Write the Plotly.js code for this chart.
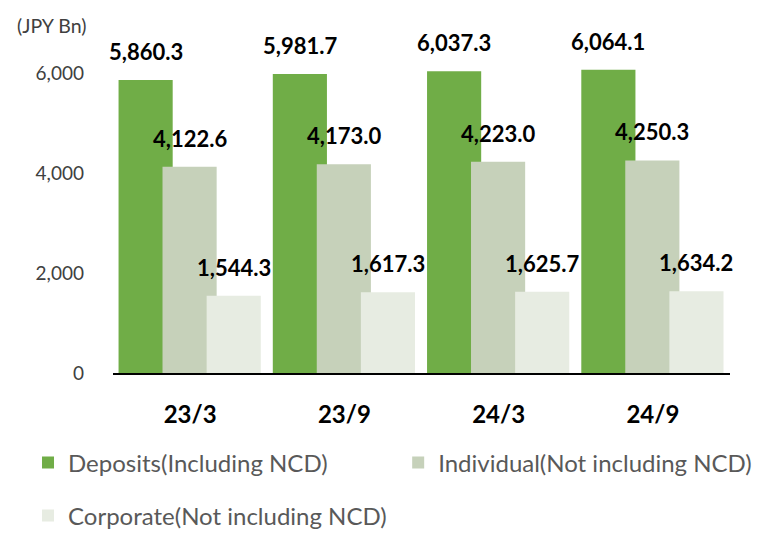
<!DOCTYPE html>
<html>
<head>
<meta charset="utf-8">
<script src="https://cdn.plot.ly/plotly-3.0.1.min.js"></script>
<style>html,body{margin:0;padding:0;background:#fff;}#chart{width:757px;height:534px;}</style>
</head>
<body>
<div id="chart"></div>
<script>
const categories = ["23/3", "23/9", "24/3", "24/9"];
const deposits = [5860.3, 5981.7, 6037.3, 6064.1];
const individual = [4122.6, 4173.0, 4223.0, 4250.3];
const corporate = [1544.3, 1617.3, 1625.7, 1634.2];
const seriesNames = ["Deposits(Including NCD)", "Individual(Not including NCD)", "Corporate(Not including NCD)"];
const yTicks = [0, 2000, 4000, 6000];

const colors = ["#70AD47", "#C6D1BA", "#E7ECE2"];
const offsets = [-0.464, -0.179, 0.107];
const barW = 0.351;
const series = [deposits, individual, corporate];
const legendIds = ["legend", "legend2", "legend3"];

const traces = series.map((vals, k) => ({
  type: "bar",
  name: seriesNames[k],
  x: categories,
  y: vals,
  width: barW,
  offset: offsets[k],
  marker: {color: colors[k], line: {width: 0}},
  legend: legendIds[k],
  hoverinfo: "skip"
}));

const fmt = v => v.toLocaleString("en-US", {minimumFractionDigits: 1, maximumFractionDigits: 1});
const annotations = [];
series.forEach((vals, k) => {
  vals.forEach((v, i) => {
    annotations.push({
      x: i + offsets[k] + barW / 2, y: v, xref: "x", yref: "y",
      text: fmt(v), showarrow: false, yanchor: "bottom", yshift: 13,
      font: {family: "Lato, sans-serif", size: 22, color: "#000", weight: "bold"}
    });
  });
});
annotations.push({
  xref: "paper", yref: "paper", x: -0.1, y: 1.0, xanchor: "center", yanchor: "middle", yshift: 15,
  text: "(JPY Bn)", showarrow: false,
  font: {family: "Lato, sans-serif", size: 19.5, color: "#404040"}
});

const legFont = {family: "Lato, sans-serif", size: 24, color: "#595959"};
const mkLegend = (x, y) => ({
  orientation: "h", xref: "container", yref: "container",
  x: x, y: y, xanchor: "left", yanchor: "middle", itemwidth: 30,
  font: legFont, bgcolor: "rgba(0,0,0,0)"
});

const layout = {
  width: 757, height: 534,
  margin: {l: 113, r: 27, t: 40, b: 161},
  paper_bgcolor: "#fff", plot_bgcolor: "#fff",
  barmode: "overlay",
  showlegend: true,
  xaxis: {
    type: "category", range: [-0.5, 3.5],
    showline: true, linecolor: "#000", linewidth: 1.5,
    showgrid: false, zeroline: false, ticks: "",
    ticklabelstandoff: 20,
    tickfont: {family: "Lato, sans-serif", size: 24, color: "#000", weight: "bold"}
  },
  yaxis: {
    range: [0, 6660], tickvals: yTicks, tickformat: ",",
    showgrid: false, zeroline: false, showline: false, ticks: "",
    ticklabelstandoff: 28,
    tickfont: {family: "Lato, sans-serif", size: 19, color: "#404040"}
  },
  legend: mkLegend(0.037, 0.133),
  legend2: mkLegend(0.526, 0.133),
  legend3: mkLegend(0.037, 0.034),
  annotations: annotations
};

Plotly.newPlot("chart", traces, layout, {staticPlot: true, displayModeBar: false});
</script>
</body>
</html>
